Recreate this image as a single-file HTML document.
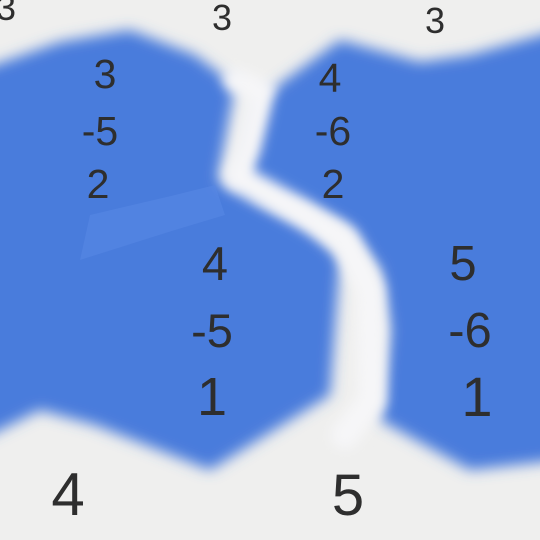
<!DOCTYPE html>
<html><head><meta charset="utf-8"><style>
html,body{margin:0;padding:0;width:540px;height:540px;overflow:hidden;background:#efefee}
svg{display:block}
text{font-family:"Liberation Sans",sans-serif;fill:#2e2e2e;text-anchor:middle}
</style></head><body>
<svg width="540" height="540" viewBox="0 0 540 540">
<defs>
<filter id="b" x="-20%" y="-20%" width="140%" height="140%"><feGaussianBlur stdDeviation="7"/></filter>
<filter id="b2" x="-20%" y="-20%" width="140%" height="140%"><feGaussianBlur stdDeviation="6"/></filter>
</defs>
<rect width="540" height="540" fill="#efefee"/>
<g filter="url(#b)">
<polygon fill="#4a7bdc" points="-20,70 60,42 130,30 195,55 235,85 218,180 310,225 340,260 330,395 210,470 95,425 40,410 -20,440"/>
<polygon fill="#4a7bdc" points="265,95 340,40 420,62 470,55 560,30 560,460 470,470 380,420 390,330 380,270 345,225 300,205 240,190"/>
</g>
<g filter="url(#b2)" fill="none" stroke="#f6f6f8" stroke-linecap="round">
<path stroke-width="28" d="M238,178 L300,212 L345,240 L370,290 L372,400 L345,435"/>
<path stroke-width="24" d="M235,80 L262,92 L248,150 L236,178"/>
</g>
<polygon fill="#5a8ae6" opacity="0.5" points="90,215 175,195 215,185 225,215 175,230 80,260"/>
<g>
<text x="6" y="20" font-size="36">3</text>
<text x="222" y="30" font-size="36">3</text>
<text x="435" y="33" font-size="36">3</text>
<text x="105" y="88" font-size="41">3</text>
<text x="100" y="145" font-size="41">-5</text>
<text x="98" y="198" font-size="41">2</text>
<text x="330" y="92" font-size="41">4</text>
<text x="333" y="145" font-size="41">-6</text>
<text x="333" y="198" font-size="41">2</text>
<text x="215" y="280" font-size="47">4</text>
<text x="212" y="347" font-size="47">-5</text>
<text x="212" y="415" font-size="54">1</text>
<text x="463" y="280" font-size="49">5</text>
<text x="470" y="347" font-size="49">-6</text>
<text x="477" y="416" font-size="56">1</text>
<text x="68" y="515" font-size="60">4</text>
<text x="348" y="515" font-size="58">5</text>
</g>
</svg>
</body></html>
